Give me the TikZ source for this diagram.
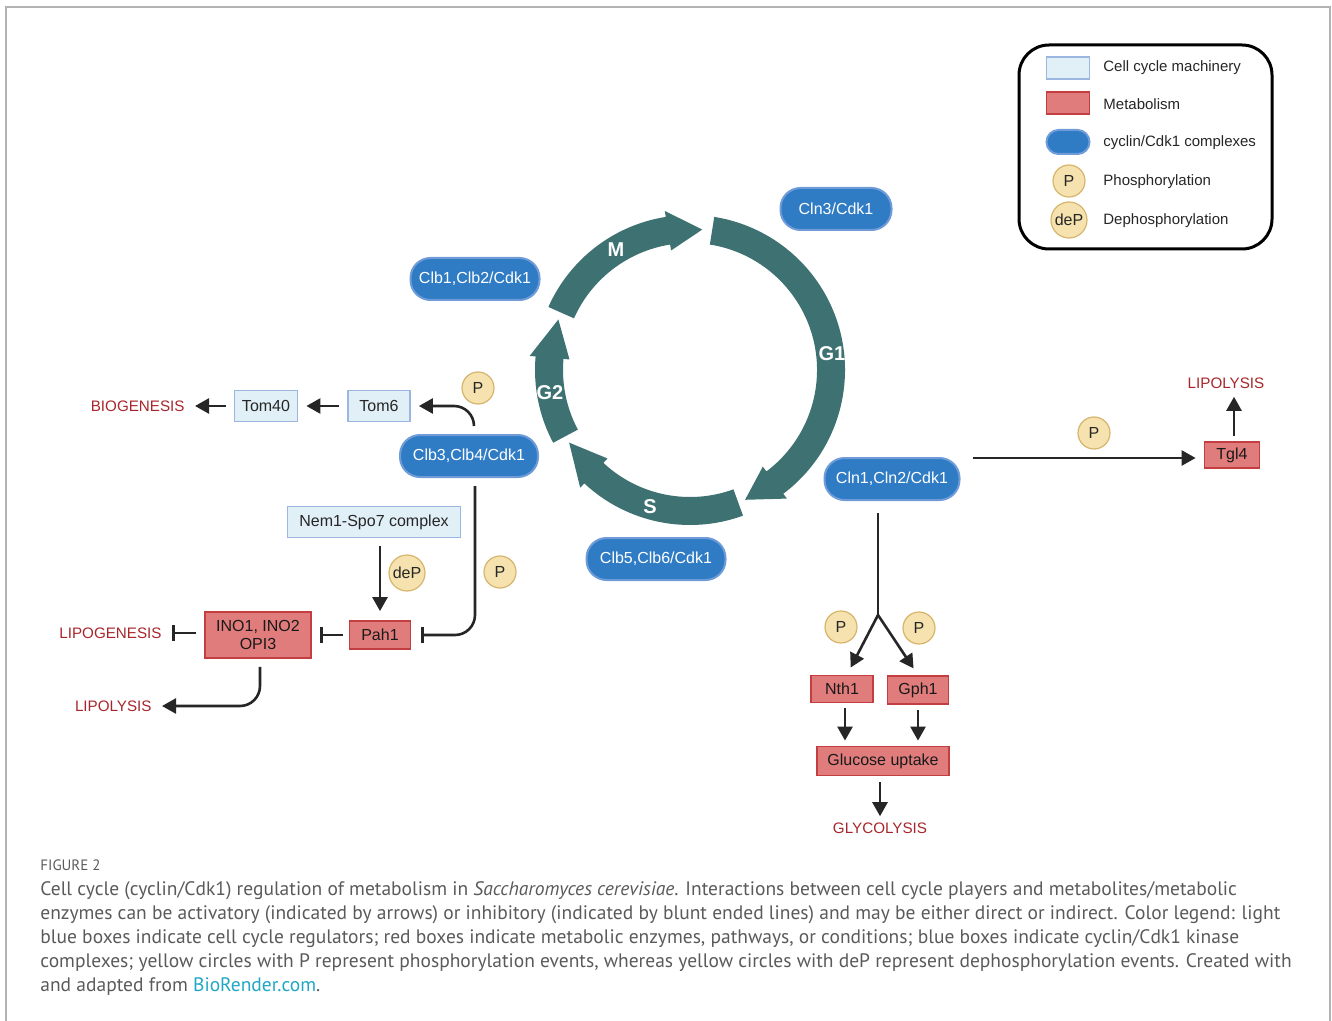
\documentclass[tikz,border=0pt]{standalone}
\usepackage{fontspec}
\setmainfont{Liberation Sans}
\newfontfamily\capfont{PT Sans}
\usetikzlibrary{arrows.meta, positioning, calc}

\definecolor{cycteal}{HTML}{3E7272}
\definecolor{cdkfill}{HTML}{2F7CC5}
\definecolor{cdkline}{HTML}{6F9CD8}
\definecolor{ccfill}{HTML}{E1EFF7}
\definecolor{ccline}{HTML}{9CB6E2}
\definecolor{metfill}{HTML}{E07C7C}
\definecolor{metline}{HTML}{C23E40}
\definecolor{pfill}{HTML}{F6E2AE}
\definecolor{pline}{HTML}{D6B56C}
\definecolor{outred}{HTML}{A8262B}
\definecolor{capgray}{HTML}{5A5A5A}
\definecolor{linkcol}{HTML}{20A7C4}

\tikzset{
  cdk/.style={rectangle, rounded corners=10pt, fill=cdkfill, draw=cdkline, line width=1pt,
    text=white, inner sep=0pt, minimum height=21pt, font=\fontsize{8}{9}\selectfont},
  ccbox/.style={rectangle, fill=ccfill, draw=ccline, line width=0.9pt, text=black!85,
    inner sep=0pt, minimum height=15.5pt, font=\fontsize{8}{9}\selectfont},
  metbox/.style={rectangle, fill=metfill, draw=metline, line width=0.9pt, text=black!90,
    inner sep=0pt, minimum height=14pt, font=\fontsize{8}{9}\selectfont},
  pcirc/.style={circle, fill=pfill, draw=pline, line width=0.6pt, inner sep=0pt,
    minimum size=16pt, text=black!85, font=\fontsize{8}{9}\selectfont},
  outcome/.style={text=outred, inner sep=1pt, font=\fontsize{7.6}{9}\selectfont},
  legtext/.style={anchor=west, inner sep=0pt, text=black!85, font=\fontsize{7.5}{9}\selectfont},
  phase/.style={text=white, inner sep=0pt, font=\bfseries\fontsize{10}{12}\selectfont},
  arr/.style={-{Triangle[length=7pt,width=7.5pt]}, line width=1.3pt, black!85,
    shorten >=4pt, shorten <=4pt},
  blunt/.style={-{Bar[width=8pt]}, line width=1.3pt, black!85,
    shorten >=4pt, shorten <=4pt}
}

\begin{document}
\begin{tikzpicture}[x=0.5pt, y=-0.5pt]
  \useasboundingbox (0,0) rectangle (1332,1021);
  \draw[black!30, line width=1pt] (6,1021) -- (6,7) -- (1330,7) -- (1330,1021);

  % Cell cycle wheel
  \begin{scope}[shift={(690,370)}, yscale=-1]
    \foreach \a/\b/\c in {156/99/85, 81/-53/-67, -70/-133/-149, 208/175/159} {
      \fill[cycteal] (\a:127) arc[start angle=\a, end angle=\b, radius=127]
        -- (\b:121) -- (\c:141) -- (\b:161) -- (\b:155)
        arc[start angle=\b, end angle=\a, radius=155] -- cycle;
    }
  \end{scope}
  \node[phase] (pM) at (616,250) {M};
  \node[phase] (pG1) at (832,354) {G1};
  \node[phase] (pS) at (650,507) {S};
  \node[phase] (pG2) at (550,393) {G2};

  % cyclin/Cdk1 complexes
  \node[cdk, minimum width=55.5pt] (cln3) at (836,209) {Cln3/Cdk1};
  \node[cdk, minimum width=64.5pt] (clbA) at (475,279) {Clb1,Clb2/Cdk1};
  \node[cdk, minimum width=69pt] (clbB) at (469,456) {Clb3,Clb4/Cdk1};
  \node[cdk, minimum width=69.5pt] (clbC) at (656,559) {Clb5,Clb6/Cdk1};
  \node[cdk, minimum width=67.5pt] (cln12) at (892,479) {Cln1,Cln2/Cdk1};

  % Left: mitochondria and lipids
  \node[ccbox, minimum width=31.5pt] (tom40) at (266,406) {Tom40};
  \node[ccbox, minimum width=31pt] (tom6) at (379,406) {Tom6};
  \node[ccbox, minimum width=86.5pt] (nem) at (374,522) {Nem1-Spo7 complex};
  \node[metbox, minimum width=53pt, minimum height=23pt, align=center,
    font=\fontsize{8}{8.6}\selectfont] (ino) at (258,635) {INO1, INO2\\OPI3};
  \node[metbox, minimum width=30.5pt] (pah) at (380,635) {Pah1};
  \node[outcome, anchor=east] (biogen) at (187,406) {BIOGENESIS};
  \node[outcome, anchor=east] (lipogen) at (164,633) {LIPOGENESIS};
  \node[outcome, anchor=east] (lipoL) at (154,706) {LIPOLYSIS};
  \node[pcirc] (pA) at (478,388) {P};
  \node[pcirc] (pB) at (500,572) {P};
  \node[pcirc, minimum size=18pt] (depA) at (407,573) {deP};

  \draw[arr, rounded corners=10pt] ([xshift=2.5pt]clbB.north) |- (tom6.east);
  \draw[arr] (tom6.west) -- (tom40.west -| tom40.east);
  \draw[arr] (tom40.west) -- (biogen.east);
  \draw[blunt, rounded corners=10pt, shorten >=5pt] ([xshift=3pt]clbB.south) |- (pah.east);
  \draw[arr, shorten >=4.5pt] (nem.south -| pah.north) -- (pah.north);
  \draw[blunt, shorten <=3pt] (pah.west) -- (ino.east);
  \draw[blunt] (ino.west |- lipogen.east) -- (lipogen.east);
  \draw[arr, rounded corners=10pt] ([xshift=1pt]ino.south) |- (lipoL.east);

  % Right: Tgl4 and glucose
  \node[metbox, minimum width=27.5pt, minimum height=13pt] (tgl4) at (1232,455) {Tgl4};
  \node[outcome] (lipoR) at (1226,383) {LIPOLYSIS};
  \node[pcirc] (pC) at (1094,433) {P};
  \draw[arr, shorten <=6pt] ([yshift=-1.5pt]tgl4.west -| cln12.east) -- ([yshift=-1.5pt]tgl4.west);
  \draw[arr, shorten <=2.5pt, shorten >=3pt] ([xshift=1pt]tgl4.north) -- ([xshift=1pt]tgl4.north |- lipoR.south);

  \node[metbox, minimum width=31pt, minimum height=13.5pt] (nth) at (842,689) {Nth1};
  \node[metbox, minimum width=30.5pt] (gph) at (918,690) {Gph1};
  \node[metbox, minimum width=66pt, minimum height=14.5pt] (gluc) at (883,761) {Glucose uptake};
  \node[outcome] (glyco) at (880,828) {GLYCOLYSIS};
  \node[pcirc] (pD) at (841,627) {P};
  \node[pcirc] (pE) at (919,628) {P};
  \coordinate (fork) at (878,615);
  \draw[line width=1.3pt, black!85, shorten <=6pt] (cln12.south -| fork) -- (fork);
  \draw[arr, shorten <=0pt] (fork) -- ([xshift=2.5pt]nth.north);
  \draw[arr, shorten <=0pt] (fork) -- (gph.north);
  \draw[arr, shorten <=2.5pt, shorten >=2.5pt] ([xshift=1.5pt]nth.south) -- ([xshift=1.5pt]nth.south |- gluc.north);
  \draw[arr, shorten <=2.5pt, shorten >=2.5pt] (gph.south) -- (gph.south |- gluc.north);
  \draw[arr, shorten <=3pt, shorten >=2pt] (gluc.south -| glyco.north) -- (glyco.north);

  % Legend
  \draw[line width=1.5pt, rounded corners=15pt] (1019,45) rectangle (1272,249);
  \node[ccbox, minimum width=21.5pt, minimum height=11pt] (legA) at (1068,68) {};
  \node[metbox, minimum width=21.5pt, minimum height=11pt] (legB) at (1068,103) {};
  \node[cdk, minimum width=21.5pt, minimum height=12pt, rounded corners=6pt] (legC) at (1068,142) {};
  \node[pcirc] (legD) at (1069,181) {P};
  \node[pcirc, minimum size=18pt] (legE) at (1069,220) {deP};
  \node[legtext] (legAt) at (1103,68) {Cell cycle machinery};
  \node[legtext] (legBt) at (1103,104) {Metabolism};
  \node[legtext] (legCt) at (1103,143) {cyclin/Cdk1 complexes};
  \node[legtext] (legDt) at (1103,182) {Phosphorylation};
  \node[legtext] (legEt) at (1103,221) {Dephosphorylation};

  % Caption
  \node[anchor=west, inner sep=0pt, text=capgray, font=\capfont\fontsize{7.5}{9}\selectfont] (fig) at (40,865) {FIGURE 2};
  \node[anchor=north west, align=left, inner sep=0pt, text=capgray,
    font=\capfont\fontsize{9.75}{12}\selectfont] (caption) at (40,881)
    {Cell cycle (cyclin/Cdk1) regulation of metabolism in \textit{Saccharomyces cerevisiae}. Interactions between cell cycle players and metabolites/metabolic\\
     enzymes can be activatory (indicated by arrows) or inhibitory (indicated by blunt ended lines) and may be either direct or indirect. Color legend: light\\
     blue boxes indicate cell cycle regulators; red boxes indicate metabolic enzymes, pathways, or conditions; blue boxes indicate cyclin/Cdk1 kinase\\
     complexes; yellow circles with P represent phosphorylation events, whereas yellow circles with deP represent dephosphorylation events. Created with\\
     and adapted from \textcolor{linkcol}{BioRender.com}.};
\end{tikzpicture}
\end{document}
